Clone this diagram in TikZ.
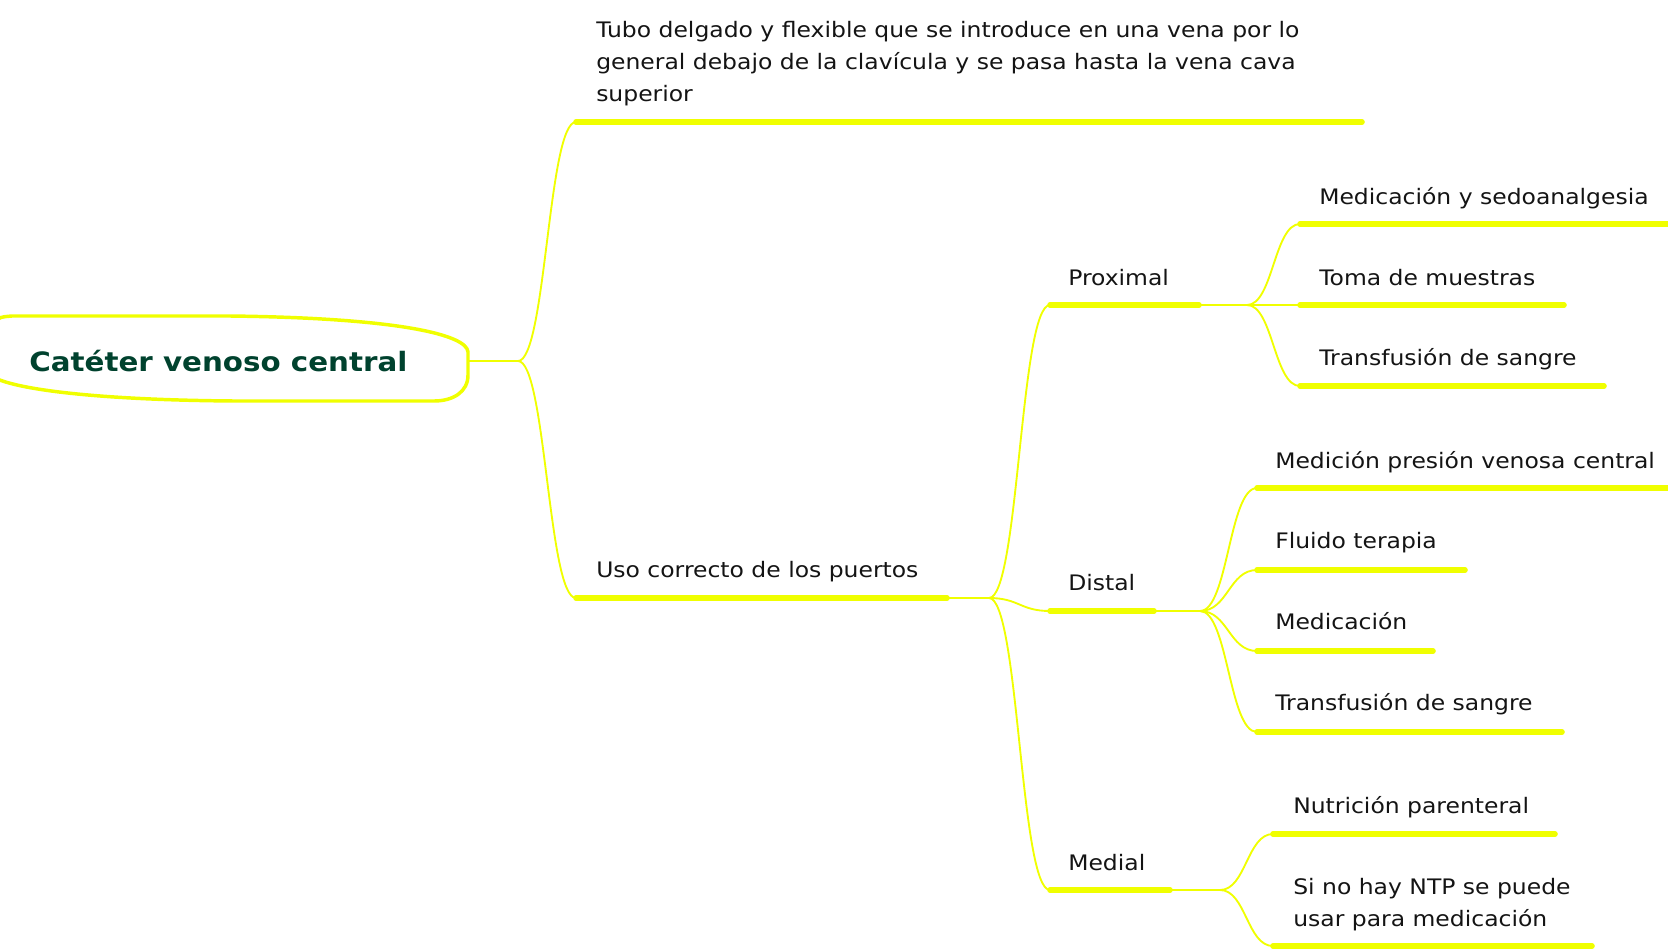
\documentclass[tikz,border=0pt]{standalone}
\usepackage{fontspec}
\setmainfont{DejaVu Sans}[FakeStretch=1.1]
\definecolor{branch}{RGB}{240,255,0}
\definecolor{rootgreen}{RGB}{0,66,46}
\definecolor{txt}{RGB}{20,20,20}
\tikzset{
  topic/.style={font=\fontsize{16}{24}\selectfont, text=txt, inner sep=0pt, anchor=base west, align=left},
  bar/.style={draw=branch, line width=4.2pt, line cap=round},
  link/.style={draw=branch, line width=1.4pt},
}
\begin{document}
\begin{tikzpicture}[x=0.75pt,y=-0.75pt]
\useasboundingbox (0,0) rectangle (1668,950);
\clip (0,0) rectangle (1668,950);
\draw[draw=branch, line width=2.6pt] (-5,322) .. controls (0,317) .. (12,316) -- (230,316) .. controls (400,318) and (467,335) .. (468,352) -- (468,375) .. controls (468,392) and (453,401) .. (434,401) -- (235,401) .. controls (100,400) and (20,390) .. (-5,378);
\node[anchor=base west, inner sep=0pt, text=rootgreen, font=\fontsize{20}{26}\bfseries\selectfont] (root) at (29,371) {Catéter venoso central};
\coordinate (rootR) at (468,361);
\coordinate (f0) at (518,361);
\coordinate (b1s) at (576,122);
\coordinate (b1e) at (1362,122);
\coordinate (b2s) at (576,598);
\coordinate (b2e) at (947,598);
\coordinate (f2) at (989,598);
\coordinate (b3s) at (1050,305);
\coordinate (b3e) at (1199,305);
\coordinate (f3) at (1247,305);
\coordinate (b4s) at (1050,611);
\coordinate (b4e) at (1154,611);
\coordinate (f4) at (1200,611);
\coordinate (b5s) at (1050,890);
\coordinate (b5e) at (1170,890);
\coordinate (f5) at (1220,890);
\node[topic] (tubo) at (596,101) {Tubo delgado y flexible que se introduce en una vena por lo\\general debajo de la clavícula y se pasa hasta la vena cava\\superior};
\node[topic] (uso) at (596,577) {Uso correcto de los puertos};
\node[topic] (prox) at (1068,285) {Proximal};
\node[topic] (dist) at (1068,590) {Distal};
\node[topic] (medi) at (1068,870) {Medial};
\node[topic] (p1) at (1319,204) {Medicación y sedoanalgesia};
\node[topic] (p2) at (1319,285) {Toma de muestras};
\node[topic] (p3) at (1319,365) {Transfusión de sangre};
\node[topic] (d1) at (1275,468) {Medición presión venosa central};
\node[topic] (d2) at (1275,548) {Fluido terapia};
\node[topic] (d3) at (1275,629) {Medicación};
\node[topic] (d4) at (1275,710) {Transfusión de sangre};
\node[topic] (m1) at (1293,813) {Nutrición parenteral};
\node[topic] (m2) at (1293,926) {Si no hay NTP se puede\\usar para medicación};
\coordinate (p1s) at (1300,224);
\coordinate (p1e) at (1700,224);
\coordinate (p2s) at (1300,305);
\coordinate (p2e) at (1564,305);
\coordinate (p3s) at (1300,386);
\coordinate (p3e) at (1604,386);
\coordinate (d1s) at (1257,488);
\coordinate (d1e) at (1700,488);
\coordinate (d2s) at (1257,570);
\coordinate (d2e) at (1465,570);
\coordinate (d3s) at (1257,651);
\coordinate (d3e) at (1433,651);
\coordinate (d4s) at (1257,732);
\coordinate (d4e) at (1562,732);
\coordinate (m1s) at (1273,834);
\coordinate (m1e) at (1555,834);
\coordinate (m2s) at (1273,946);
\coordinate (m2e) at (1592,946);
\draw[link] (rootR) -- (f0);
\draw[link] (f0) .. controls +(28,0) and +(-28,0) .. (b1s);
\draw[link] (f0) .. controls +(28,0) and +(-28,0) .. (b2s);
\draw[link] (b2e) -- (f2);
\draw[link] (f2) .. controls +(30,0) and +(-30,0) .. (b3s);
\draw[link] (f2) .. controls +(30,0) and +(-30,0) .. (b4s);
\draw[link] (f2) .. controls +(30,0) and +(-30,0) .. (b5s);
\draw[link] (b3e) -- (f3);
\draw[link] (f3) .. controls +(26,0) and +(-26,0) .. (p1s);
\draw[link] (f3) -- (p2s);
\draw[link] (f3) .. controls +(26,0) and +(-26,0) .. (p3s);
\draw[link] (b4e) -- (f4);
\draw[link] (f4) .. controls +(28,0) and +(-28,0) .. (d1s);
\draw[link] (f4) .. controls +(28,0) and +(-28,0) .. (d2s);
\draw[link] (f4) .. controls +(28,0) and +(-28,0) .. (d3s);
\draw[link] (f4) .. controls +(28,0) and +(-28,0) .. (d4s);
\draw[link] (b5e) -- (f5);
\draw[link] (f5) .. controls +(26,0) and +(-26,0) .. (m1s);
\draw[link] (f5) .. controls +(26,0) and +(-26,0) .. (m2s);
\draw[bar] (b1s) -- (b1e);
\draw[bar] (b2s) -- (b2e);
\draw[bar] (b3s) -- (b3e);
\draw[bar] (b4s) -- (b4e);
\draw[bar] (b5s) -- (b5e);
\draw[bar] (p1s) -- (p1e);
\draw[bar] (p2s) -- (p2e);
\draw[bar] (p3s) -- (p3e);
\draw[bar] (d1s) -- (d1e);
\draw[bar] (d2s) -- (d2e);
\draw[bar] (d3s) -- (d3e);
\draw[bar] (d4s) -- (d4e);
\draw[bar] (m1s) -- (m1e);
\draw[bar] (m2s) -- (m2e);
\end{tikzpicture}
\end{document}
